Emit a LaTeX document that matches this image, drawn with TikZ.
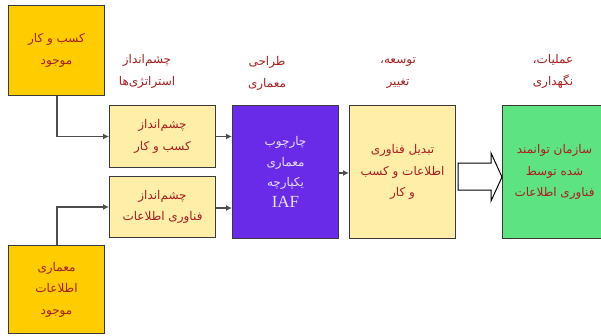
\documentclass[tikz,border=0pt]{standalone}
\usepackage{fontspec}
\TeXXeTstate=1
\newfontfamily\fa[Script=Arabic]{DejaVu Sans}
\newfontfamily\latserif{Liberation Serif}
\usetikzlibrary{arrows.meta,calc}
\definecolor{ored}{HTML}{FFCC00}
\definecolor{lyel}{HTML}{FFEEA8}
\definecolor{purp}{HTML}{6A2BE8}
\definecolor{gree}{HTML}{5EE383}
\definecolor{txtred}{HTML}{A82020}
\definecolor{bord}{HTML}{3A3A3A}
\definecolor{lav}{HTML}{E6DEFF}
\tikzset{
  box/.style={draw=bord, line width=1pt, anchor=north west, align=center, inner sep=0pt, font=\fa\fontsize{12}{21.5}\selectfont, text=txtred},
  lbl/.style={align=center, inner sep=0pt, font=\fa\fontsize{12}{22}\selectfont, text=txtred},
  conn/.style={draw=bord!90, line width=1.2pt, -{Latex[length=6pt,width=6pt]}},
  plain/.style={draw=black, line width=1pt},
}
\begin{document}
\begin{tikzpicture}[x=1pt,y=-1pt]
\useasboundingbox (0,0) rectangle (601,335);
% left source boxes
\node[box, fill=ored, minimum width=96pt, minimum height=90pt] (biz) at (8,5)
  {\beginR کسب و کار\endR\\ \beginR موجود\endR};
\node[box, fill=ored, minimum width=96pt, minimum height=88pt] (ia) at (8,245)
  {\beginR معماری\endR\\ \beginR اطلاعات\endR\\ \beginR موجود\endR};
% vision boxes
\node[box, fill=lyel, minimum width=106pt, minimum height=62pt] (bv) at (109,105)
  {\beginR چشم‌انداز\endR\\ \beginR کسب و کار\endR};
\node[box, fill=lyel, minimum width=106pt, minimum height=61pt] (itv) at (109,176)
  {\beginR چشم‌انداز\endR\\ \beginR فناوری اطلاعات\endR};
% IAF
\node[box, fill=purp, text=lav, minimum width=106pt, minimum height=133pt, font=\fa\fontsize{12}{20.5}\selectfont] (iaf) at (232,105)
  {\beginR چارچوب\endR\\ \beginR معماری\endR\\ \beginR یکپارچه\endR\\ {\latserif\fontsize{17}{20}\selectfont IAF}};
% transformation
\node[box, fill=lyel, minimum width=106pt, minimum height=133pt] (tr) at (349,105)
  {\beginR تبدیل فناوری\endR\\ \beginR اطلاعات و کسب\endR\\ \beginR و کار\endR};
% enabled org
\node[box, fill=gree, minimum width=104pt, minimum height=133pt] (org) at (502,105)
  {\beginR سازمان توانمند\endR\\ \beginR شده توسط\endR\\ \beginR فناوری اطلاعات\endR};
% column labels
\node[lbl] (l1) at (147,71) {\beginR چشم‌انداز\endR\\ \beginR استراتژی‌ها\endR};
\node[lbl] (l2) at (267,73) {\beginR طراحی\endR\\ \beginR معماری\endR};
\node[lbl] (l3) at (398,73) {\beginR توسعه،\endR\\ \beginR تغییر\endR};
\node[lbl] (l4) at (553,71) {\beginR عملیات،\endR\\ \beginR نگهداری\endR};
% connectors
\draw[conn] (biz.south -| 57,0) |- ($(bv.north west)!0.5!(bv.south west)$);
\draw[conn] (ia.north -| 57,0) |- ($(itv.north west)!0.5!(itv.south west)$);
\draw[conn] (bv.east) -- (bv.east -| iaf.west);
\draw[conn] ($(itv.east)+(0,1)$) -- ($(itv.east -| iaf.west)+(0,1)$);
\draw[conn] ($(iaf.east)+(0,1)$) -- ($(iaf.east -| tr.west)+(0,1)$);
% big hollow arrow
\coordinate (a0) at ($(tr.east)+(2,0)$);
\coordinate (tip) at ($(org.west)+(0,5)$);
\draw[plain, fill=white, line join=miter]
  ($(a0)+(0,-9)$) -- ($(tip)+(-11,-14)$) -- ($(tip)+(-11,-24)$) -- (tip)
  -- ($(tip)+(-11,24)$) -- ($(tip)+(-11,13)$) -- ($(a0)+(0,18)$) -- cycle;
\end{tikzpicture}
\end{document}
